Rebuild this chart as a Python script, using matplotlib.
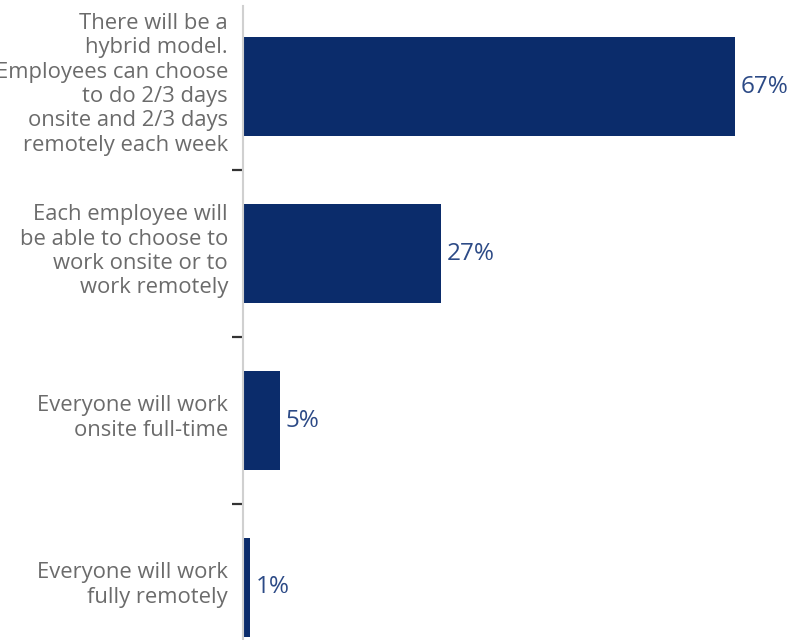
import matplotlib
matplotlib.use("Agg")
import matplotlib.pyplot as plt
from matplotlib.ticker import FixedLocator
from matplotlib.transforms import blended_transform_factory, ScaledTranslation

categories = [
    "There will be a\nhybrid model.\nEmployees can choose\nto do 2/3 days\nonsite and 2/3 days\nremotely each week",
    "Each employee will\nbe able to choose to\nwork onsite or to\nwork remotely",
    "Everyone will work\nonsite full-time",
    "Everyone will work\nfully remotely",
]
values = [67, 27, 5, 1]
value_labels = ["67%", "27%", "5%", "1%"]

bar_color = "#0b2c6b"
label_color = "#2c4a86"
text_color = "#6b6b6b"

plt.rcParams["font.family"] = ["Open Sans", "DejaVu Sans"]

W, H = 807, 640
fig = plt.figure(figsize=(W / 100, H / 100), dpi=100)
ax = fig.add_axes([243 / W, 0, (W - 243) / W, (H - 6) / H])

pos = list(range(len(categories)))
ax.barh(pos, values, height=0.593, color=bar_color)

step = 165.3
ax.set_ylim(3 + 52 / step, -80 / step)
ax.set_xlim(0, (W - 243) / (492 / 67))

for p, v, lab in zip(pos, values, value_labels):
    ax.text(v + 0.8, p, lab, va="center", ha="left", fontsize=17.5, color=label_color)

# category labels drawn left of the axis line, nudged up slightly
label_tf = blended_transform_factory(ax.transAxes, ax.transData) + \
    ScaledTranslation(-15 / 100, 2.5 / 100, fig.dpi_scale_trans)
for p, cat in zip(pos, categories):
    ax.text(0, p, cat, transform=label_tf, ha="right", va="center",
            multialignment="right", fontsize=15.8, color=text_color,
            linespacing=1.21, clip_on=False)

ax.set_yticks(pos)
ax.set_yticklabels([])
ax.tick_params(axis="y", which="major", length=0)
ax.yaxis.set_minor_locator(FixedLocator([0.5, 1.5, 2.5]))
ax.tick_params(axis="y", which="minor", length=8, width=1.6, color="#333333", direction="out")

ax.set_xticks([])
for s in ["top", "right", "bottom"]:
    ax.spines[s].set_visible(False)
ax.spines["left"].set_color("#d0d0d0")
ax.spines["left"].set_linewidth(1.5)

fig.savefig("out.png", dpi=100)
